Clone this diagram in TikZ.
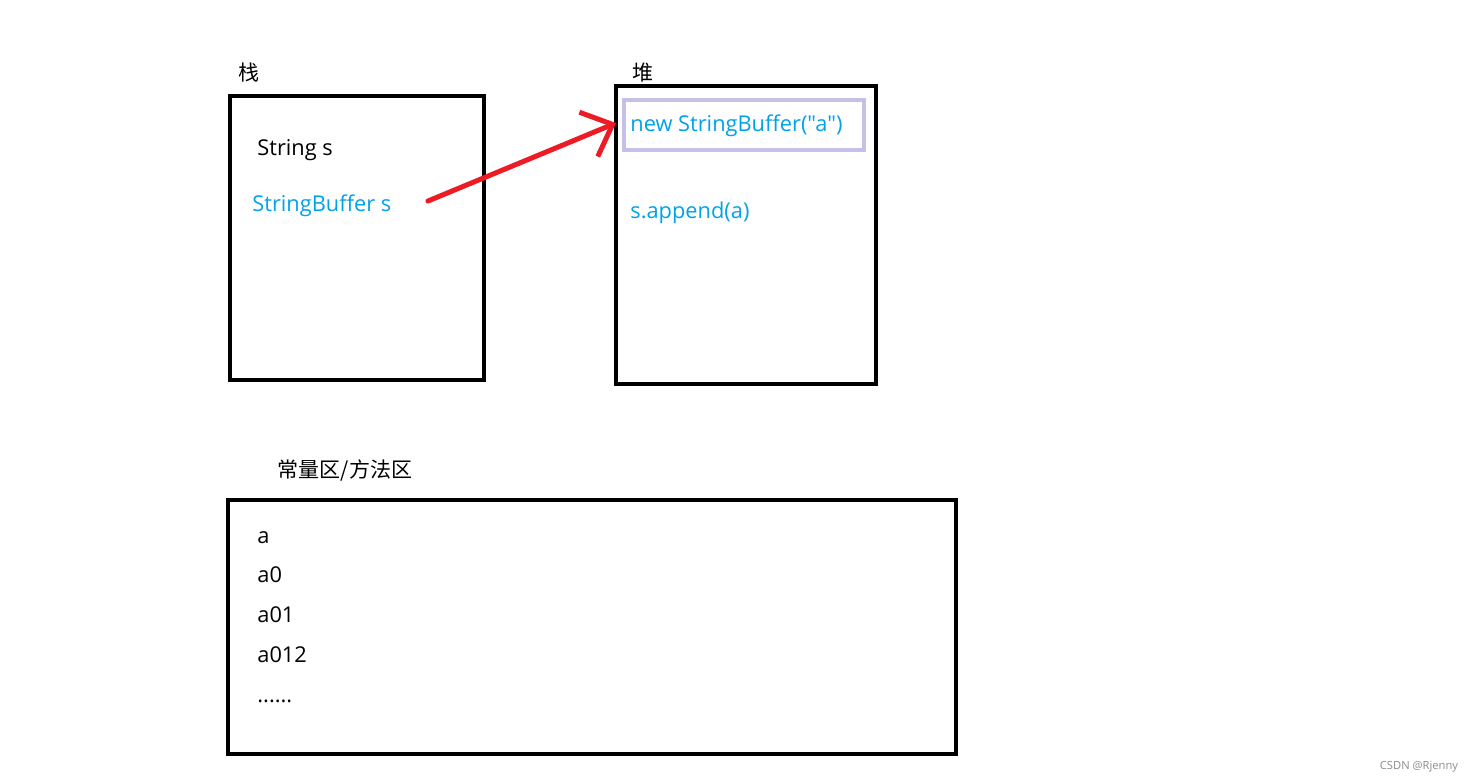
\documentclass[tikz,border=0pt]{standalone}
\usepackage{fontspec}
\setmainfont{Open Sans}[Ligatures=TeXOff]
\newfontfamily\cjk{Noto Sans CJK SC}
\usetikzlibrary{positioning,arrows.meta}
\definecolor{refblue}{HTML}{00A2E8}
\definecolor{ptrred}{HTML}{ED1C24}
\definecolor{objlilac}{HTML}{C8BFE7}
\tikzset{
  area/.style={draw, line width=2pt, inner sep=0pt},
  objbox/.style={draw=objlilac, line width=2pt, inner sep=0pt, minimum width=120pt, minimum height=25pt},
  entry/.style={anchor=base west, inner sep=0pt},
  title/.style={inner sep=0pt, font=\cjk\fontsize{10.5}{12}\selectfont},
  ptr/.style={-{Straight Barb[length=13pt, width=24pt]}, line width=2.5pt, line cap=round, draw=ptrred}
}

\begin{document}
\begin{tikzpicture}[x=0.5pt, y=-0.5pt, font=\fontsize{10.9}{12}\selectfont]
  \useasboundingbox (0,0) rectangle (1473,783);

  % memory areas
  \node[area, minimum width=127pt, minimum height=142pt] (stack) at (357,238) {};
  \node[area, minimum width=130pt, minimum height=149pt] (heap) at (746,235) {};
  \node[area, minimum width=364pt, minimum height=127pt] (pool) at (592,627) {};

  \node[title] (stacklbl) at (249,73) {栈};
  \node[title] (heaplbl) at (643,73) {堆};
  \node[title] (poollbl) at (345,470) {常量区/方法区};

  % stack
  \node[entry] (strs) at (257,155) {String s};
  \node[entry, text=refblue] (sbs) at (252,211) {StringBuffer s};

  % heap
  \node[objbox] (heapobj) at (744,125) {};
  \node[entry, text=refblue] (newsb) at (630,131) {new StringBuffer("a")};
  \node[entry, text=refblue] (app) at (630,218) {s.append(a)};

  % constant pool
  \node[entry] (c1) at (257,543) {a};
  \node[entry] (c2) at (257,582) {a0};
  \node[entry] (c3) at (257,622) {a01};
  \node[entry] (c4) at (257,662) {a012};
  \node[entry] (c5) at (257,702) {......};

  \coordinate (ptrtail) at (428,201);
  \draw[ptr] (ptrtail) -- ([xshift=-3pt, yshift=1pt]heapobj.west);

  \node[text=black!45, font=\fontsize{5.6}{6}\selectfont] (mark) at (1419,767) {CSDN @Rjenny};
\end{tikzpicture}
\end{document}
